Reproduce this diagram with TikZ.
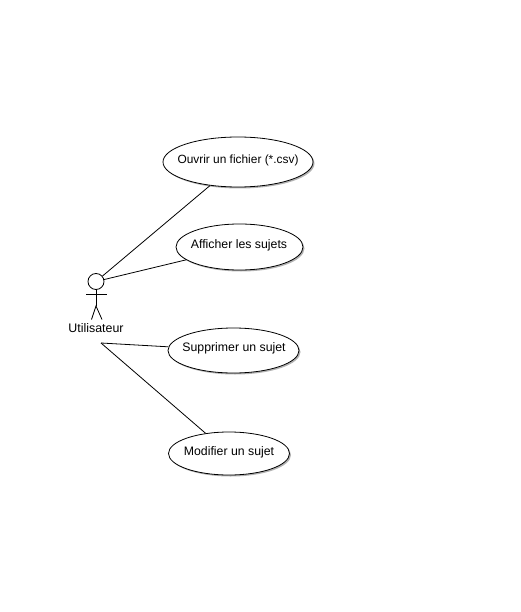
\documentclass[tikz,border=0pt]{standalone}
\usepackage{fontspec}
\setmainfont{Liberation Sans}
\usetikzlibrary{shadows,shapes.geometric}
\newcommand{\casefont}{\fontsize{12.3pt}{14pt}\selectfont}
\newcommand{\widefont}{\fontsize{11.9pt}{14pt}\selectfont}
\tikzset{
  x=1pt,y=-1pt,
  usecase/.style={ellipse,draw=black,fill=white,line width=0.8pt,inner sep=0pt,
    drop shadow={shadow xshift=1.5pt,shadow yshift=-1.5pt,fill=black,opacity=0.3}},
  casetext/.style={inner sep=0pt,font=\casefont},
  link/.style={draw=black,line width=0.8pt},
  actorline/.style={draw=black,line width=0.8pt},
  actorhead/.style={circle,draw=black,fill=white,line width=0.8pt,minimum size=16pt,inner sep=0pt},
  actorlabel/.style={font=\fontsize{12.4pt}{14pt}\selectfont,inner sep=0pt}
}
\begin{document}
\begin{tikzpicture}
\useasboundingbox[fill=white] (0,0) rectangle (521,612);
% use cases
\node[usecase,minimum width=150pt,minimum height=50pt] (ouvrir) at (238,162) {};
\node[casetext,font=\widefont] (ouvrirtext) at (238,160) {Ouvrir un fichier (*.csv)};
\node[usecase,minimum width=127pt,minimum height=46pt] (afficher) at (239.5,247) {};
\node[casetext] (affichertext) at (239,245) {Afficher les sujets};
\node[usecase,minimum width=131pt,minimum height=45pt] (supprimer) at (233.5,350.5) {};
\node[casetext] (supprimertext) at (234,348.5) {Supprimer un sujet};
\node[usecase,minimum width=121pt,minimum height=43pt] (modifier) at (229,453.5) {};
\node[casetext] (modifiertext) at (229,452) {Modifier un sujet};
% actor
\node[actorhead] (head) at (96,281.5) {};
\coordinate (armL) at (86,294);
\coordinate (armR) at (107,294);
\coordinate (hip) at (96,306);
\coordinate (legL) at (91.5,319.5);
\coordinate (legR) at (102,319.5);
\draw[actorline] (head.south) -- (hip);
\draw[actorline] (armL) -- (armR);
\draw[actorline] (legL) -- (hip) -- (legR);
\node[actorlabel] (actor) at (96,328.5) {Utilisateur};
\coordinate (corner) at (101,343);
% connectors
\draw[link] (head) -- (ouvrir);
\draw[link] (head) -- (afficher);
\draw[link] (corner) -- (supprimer);
\draw[link] (corner) -- (modifier);
\end{tikzpicture}
\end{document}
